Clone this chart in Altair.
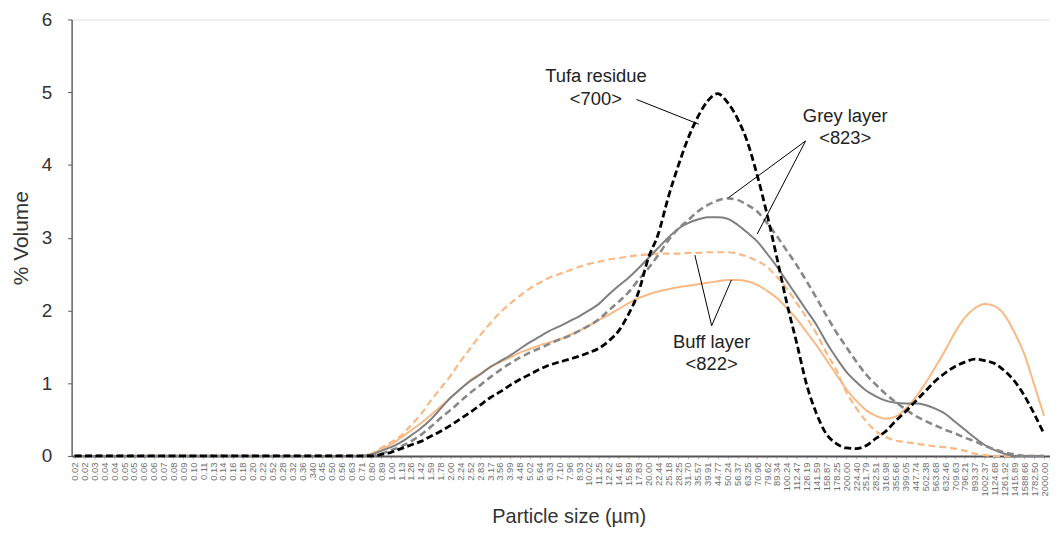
import altair as alt
import pandas as pd

FONT = "Liberation Sans"

size_labels = ["0.02","0.02","0.03","0.04","0.04","0.05","0.05","0.06","0.06","0.07","0.08","0.09",
    "0.10","0.11","0.13","0.14","0.16","0.18","0.20","0.22","0.52","0.28","0.32","0.36",".340","0.45",
    "0.50","0.56","0.63","0.71","0.80","0.89","1.00","1.13","1.26","1.42","1.59","1.78","2.00","2.24",
    "2.52","2.83","3.17","3.56","3.99","4.48","5.02","5.64","6.33","7.10","7.96","8.93","10.02","11.25",
    "12.62","14.16","15.89","17.83","20.00","22.44","25.18","28.25","31.70","35.57","39.91","44.77",
    "50.24","56.37","63.25","70.96","79.62","89.34","100.24","112.47","126.19","141.59","158.87",
    "178.25","200.00","224.40","251.79","282.51","316.98","355.66","399.05","447.74","502.38","563.68",
    "632.46","709.63","796.21","893.37","1002.37","1124.68","1261.92","1415.89","1588.66","1782.50","2000.00"]

lead = [0.0] * 29  # fine fractions: zero for every sample

tufa_700 = lead + [0, 0, 0.02, 0.05, 0.10, 0.15, 0.20, 0.27, 0.34, 0.42, 0.51, 0.60, 0.70, 0.80, 0.88,
    0.97, 1.05, 1.12, 1.19, 1.25, 1.29, 1.33, 1.37, 1.42, 1.48, 1.58, 1.72, 1.95, 2.25, 2.72, 3.05,
    3.55, 3.98, 4.36, 4.66, 4.88, 4.98, 4.86, 4.64, 4.32, 3.86, 3.32, 2.72, 2.10, 1.55, 0.98, 0.58,
    0.30, 0.17, 0.11, 0.10, 0.14, 0.24, 0.34, 0.48, 0.61, 0.75, 0.89, 1.03, 1.14, 1.23, 1.29, 1.33,
    1.31, 1.27, 1.17, 1.03, 0.83, 0.58, 0.30]

buff_822_dashed = lead + [0, 0.03, 0.11, 0.19, 0.28, 0.42, 0.57, 0.76, 0.93, 1.10, 1.30, 1.48, 1.66,
    1.82, 1.97, 2.09, 2.20, 2.30, 2.38, 2.45, 2.50, 2.55, 2.60, 2.64, 2.67, 2.70, 2.72, 2.74, 2.76,
    2.77, 2.78, 2.78, 2.78, 2.79, 2.79, 2.80, 2.80, 2.80, 2.78, 2.74, 2.68, 2.60, 2.46, 2.30, 2.10,
    1.90, 1.68, 1.42, 1.18, 0.88, 0.66, 0.48, 0.34, 0.26, 0.21, 0.19, 0.17, 0.15, 0.13, 0.12, 0.10,
    0.07, 0.03, 0.01, 0, 0, 0, 0, 0, 0]

buff_822_solid = lead + [0, 0.03, 0.09, 0.16, 0.25, 0.35, 0.45, 0.56, 0.68, 0.80, 0.92, 1.04, 1.13,
    1.22, 1.29, 1.35, 1.42, 1.47, 1.52, 1.56, 1.60, 1.66, 1.72, 1.79, 1.87, 1.94, 2.02, 2.10, 2.17,
    2.22, 2.26, 2.29, 2.32, 2.34, 2.36, 2.38, 2.40, 2.42, 2.42, 2.40, 2.35, 2.27, 2.17, 2.03, 1.88,
    1.70, 1.52, 1.32, 1.12, 0.92, 0.76, 0.63, 0.55, 0.51, 0.54, 0.65, 0.80, 1.00, 1.22, 1.45, 1.70,
    1.90, 2.03, 2.09, 2.06, 1.94, 1.70, 1.40, 0.98, 0.55]

grey_823_solid = lead + [0, 0.02, 0.07, 0.12, 0.19, 0.28, 0.38, 0.50, 0.65, 0.80, 0.92, 1.03, 1.12,
    1.22, 1.30, 1.38, 1.47, 1.56, 1.64, 1.72, 1.78, 1.85, 1.92, 2.00, 2.09, 2.22, 2.34, 2.45, 2.58,
    2.72, 2.86, 3.00, 3.12, 3.20, 3.25, 3.28, 3.28, 3.26, 3.18, 3.07, 2.95, 2.78, 2.60, 2.40, 2.20,
    2.00, 1.80, 1.56, 1.35, 1.16, 1.02, 0.90, 0.82, 0.76, 0.73, 0.72, 0.72, 0.70, 0.65, 0.58, 0.47,
    0.36, 0.25, 0.15, 0.08, 0.03, 0, 0, 0, 0]

grey_823_dashed = lead + [0, 0, 0.03, 0.08, 0.13, 0.20, 0.29, 0.40, 0.52, 0.63, 0.75, 0.87, 0.97,
    1.08, 1.18, 1.27, 1.35, 1.42, 1.48, 1.54, 1.60, 1.65, 1.72, 1.79, 1.88, 2.00, 2.12, 2.25, 2.42,
    2.58, 2.76, 2.96, 3.12, 3.24, 3.36, 3.45, 3.51, 3.54, 3.52, 3.45, 3.36, 3.20, 3.02, 2.82, 2.62,
    2.40, 2.17, 1.93, 1.70, 1.50, 1.30, 1.12, 0.98, 0.85, 0.74, 0.64, 0.55, 0.48, 0.42, 0.36, 0.31,
    0.25, 0.20, 0.14, 0.09, 0.05, 0.02, 0, 0, 0]

series = [
    ("buff_solid", buff_822_solid, "#F9B984", 2.0, []),
    ("buff_dashed", buff_822_dashed, "#F9B984", 2.2, [7, 4]),
    ("grey_solid", grey_823_solid, "#7F7F7F", 2.0, []),
    ("grey_dashed", grey_823_dashed, "#888888", 2.6, [7, 4]),
    ("tufa", tufa_700, "#000000", 2.8, [7, 3.5]),
]

rows = []
for name, vals, *_ in series:
    for i, v in enumerate(vals):
        rows.append({"idx": i, "value": v, "series": name})
df = pd.DataFrame(rows)

label_js = "[" + ",".join("'" + s + "'" for s in size_labels) + "]"

x_enc = alt.X("idx:Q",
    scale=alt.Scale(domain=[-0.3, 98.6], nice=False, zero=False),
    axis=alt.Axis(values=list(range(len(size_labels))), labelExpr=label_js + "[datum.value]",
        labelAngle=270, labelFontSize=9.5, labelColor="#707070", labelFont=FONT, labelOverlap=False,
        labelFlush=False, labelPadding=3, tickSize=3, tickColor="#bbbbbb", tickWidth=1,
        domainColor="#555555", domainWidth=2, grid=False,
        title="Particle size (µm)", titleFont=FONT, titleFontSize=20, titleFontWeight="normal",
        titleColor="#333333", titleX=500, titleY=61, titleAlign="center", titleBaseline="middle"))
y_enc = alt.Y("value:Q",
    scale=alt.Scale(domain=[0, 6], nice=False),
    axis=alt.Axis(values=[0, 1, 2, 3, 4, 5, 6], labelFontSize=19, labelFont=FONT, labelColor="#333333",
        labelPadding=16, tickSize=4, tickColor="#555555", domainColor="#666666", domainWidth=1.5,
        grid=False, title="% Volume", titleFont=FONT, titleFontSize=21, titleFontWeight="normal",
        titleColor="#333333", titleX=-50, titleY=219.5, titleAngle=270, titleAlign="center",
        titleBaseline="middle"))

layers = []
for name, vals, color, width, dash in series:
    mk = dict(color=color, strokeWidth=width, interpolate="monotone")
    if dash:
        mk["strokeDash"] = dash
    layers.append(
        alt.Chart(df).transform_filter(alt.datum.series == name)
        .mark_line(**mk).encode(x=x_enc, y=y_enc)
    )

# annotations (data coordinates)
ann_text = ["Tufa residue", "<700>", "Grey layer", "<823>", "Buff layer", "<822>"]
ann_x = [52.7, 52.7, 77.9, 77.9, 64.4, 64.4]
ann_y = [5.22, 4.90, 4.67, 4.37, 1.57, 1.26]
ann_df = pd.DataFrame({"idx": ann_x, "value": ann_y, "text": ann_text})

lead_x = [56.8, 73.9, 73.9, 64.4, 64.4]
lead_y = [4.90, 4.33, 4.33, 1.79, 1.79]
lead_x2 = [63.1, 66.1, 69.0, 62.7, 66.4]
lead_y2 = [4.56, 3.55, 3.05, 2.76, 2.42]
lead_df = pd.DataFrame({"idx": lead_x, "value": lead_y, "idx2": lead_x2, "value2": lead_y2})

texts = alt.Chart(ann_df).mark_text(font=FONT, fontSize=18.5, color="#222222", align="center",
    baseline="middle").encode(x=x_enc, y=y_enc, text="text:N")
leaders = alt.Chart(lead_df).mark_rule(color="#000000", strokeWidth=1).encode(
    x=x_enc, y=y_enc, x2="idx2:Q", y2="value2:Q")

chart = alt.layer(*layers, leaders, texts).properties(
    width=984, height=439,
    autosize=alt.AutoSizeParams(type="none"),
    padding={"left": 64, "top": 10, "right": 0, "bottom": 76},
).configure_view(stroke=None).configure(background="white")

chart.save("out.html", embed_options={"renderer": "svg", "actions": False})
